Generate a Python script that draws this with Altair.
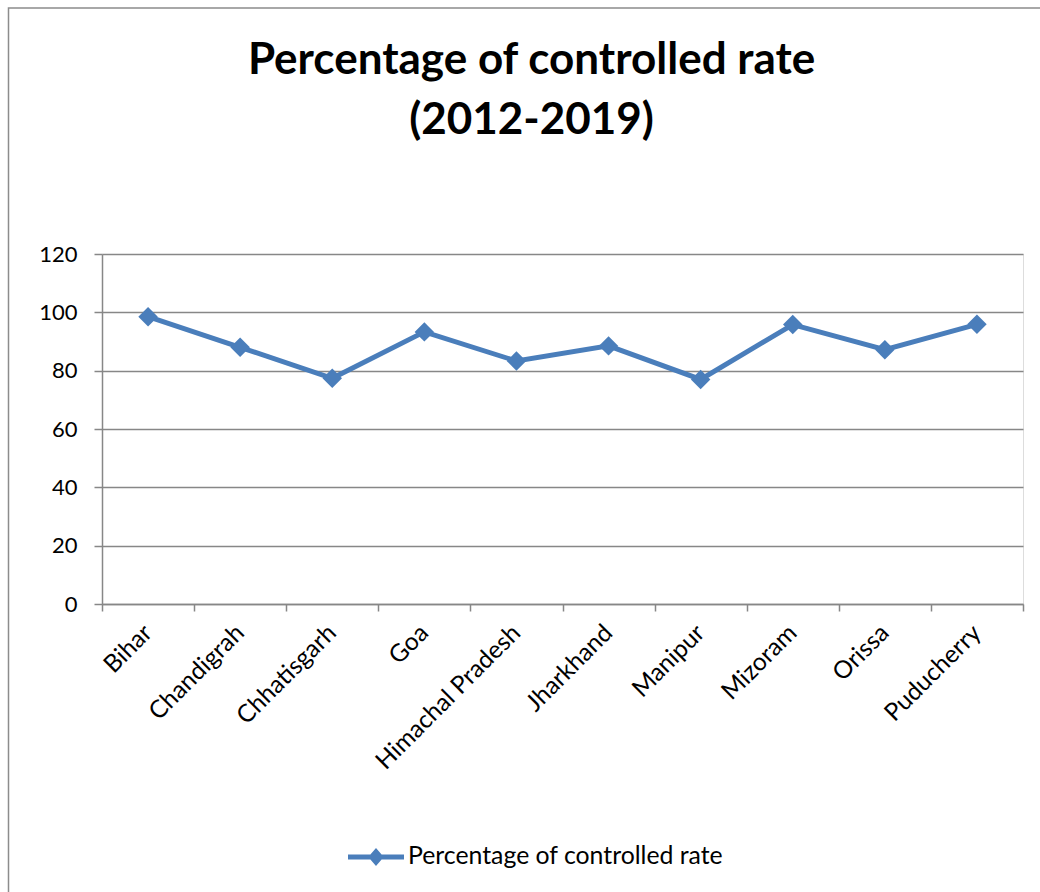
import altair as alt
import pandas as pd

# Controlled rate (%) by state / UT, 2012-2019
states = [
    "Bihar", "Chandigrah", "Chhatisgarh", "Goa", "Himachal Pradesh",
    "Jharkhand", "Manipur", "Mizoram", "Orissa", "Puducherry",
]
rates = [98.5, 88.0, 77.4, 93.3, 83.3, 88.5, 77.0, 95.8, 87.2, 95.9]
series_name = "Percentage of controlled rate"
y_ticks = [0, 20, 40, 60, 80, 100, 120]

df = pd.DataFrame({"State": states, "Rate": rates, "Series": series_name})

BLUE = "#4a7ebb"
GRID = "#878787"
FONT = "Lato"

x_enc = alt.X(
    "State:N",
    sort=states,
    bandPosition=0.5,
    scale=alt.Scale(type="band", paddingInner=0, paddingOuter=0),
    axis=alt.Axis(
        title=None,
        labelAngle=-45,
        labelAlign="right",
        labelBaseline="middle",
        labelFont=FONT,
        labelFontSize=24.5,
        labelColor="#000000",
        labelPadding=18,
        labelLimit=400,
        tickBand="extent",
        tickSize=7,
        tickColor=GRID,
        tickWidth=1.5,
        domainColor=GRID,
        domainWidth=1.5,
        grid=False,
    ),
)

y_enc = alt.Y(
    "Rate:Q",
    scale=alt.Scale(domain=[0, 120], nice=False, zero=True),
    axis=alt.Axis(
        title=None,
        values=y_ticks,
        labelFont=FONT,
        labelFontSize=22,
        labelColor="#000000",
        labelPadding=17,
        tickSize=8,
        tickColor=GRID,
        tickWidth=1.5,
        domainColor=GRID,
        domainWidth=1.5,
        grid=True,
        gridColor=GRID,
        gridWidth=1.3,
    ),
)

# legend symbol: a short line with a diamond in the middle
legend_symbol = (
    "M-1,-0.09L-0.2,-0.09L0,-0.32L0.2,-0.09L1,-0.09"
    "L1,0.09L0.2,0.09L0,0.32L-0.2,0.09L-1,0.09Z"
)

base = alt.Chart(df)

line = base.mark_line(color=BLUE, strokeWidth=5).encode(x=x_enc, y=y_enc)

points = base.mark_point(shape="diamond", filled=True, size=380, opacity=1).encode(
    x=x_enc,
    y=y_enc,
    color=alt.Color(
        "Series:N",
        scale=alt.Scale(range=[BLUE]),
        legend=alt.Legend(
            title=None,
            orient="none",
            legendX=246,
            legendY=575,
            symbolType=legend_symbol,
            symbolSize=3136,
            symbolStrokeWidth=0,
            symbolOpacity=1,
            labelFont=FONT,
            labelFontSize=24.8,
            labelColor="#000000",
            labelOffset=4,
            labelLimit=600,
        ),
    ),
)

# outer chart frame
frame = alt.Chart(pd.DataFrame({"f": [0]})).mark_rect(
    fill=None, stroke="#8c8c8c", strokeWidth=1.5
).encode(
    x=alt.value(-93.5),
    y=alt.value(-246),
    x2=alt.value(960),
    y2=alt.value(660),
)

chart = (
    alt.layer(frame, line, points)
    .properties(
        width=921,
        height=350,
        padding={"left": 102, "top": 254, "right": 17, "bottom": 288},
        autosize=alt.AutoSizeParams(type="none"),
        title=alt.TitleParams(
            text=["Percentage of controlled rate", "(2012-2019)"],
            font=FONT,
            fontSize=44,
            fontWeight="bold",
            color="#000000",
            lineHeight=60,
            anchor="middle",
            dx=-31,
            offset=-136,
        ),
    )
    .configure_view(stroke=None)
    .configure(background="#ffffff")
)

chart.save("out.html", embed_options={"renderer": "svg", "actions": False})
